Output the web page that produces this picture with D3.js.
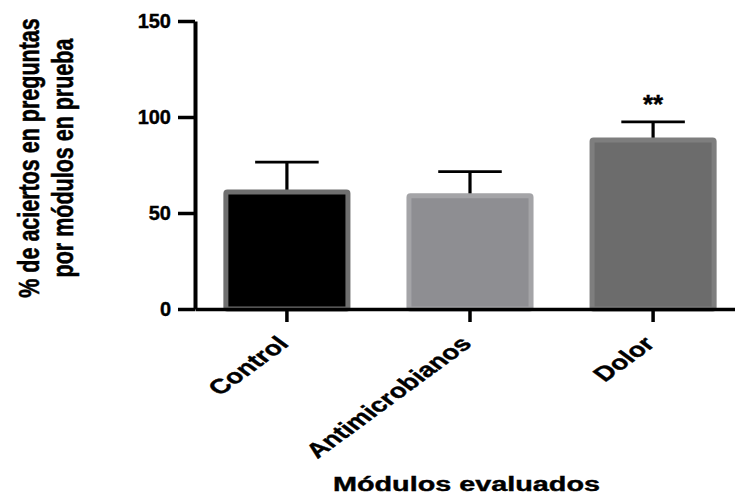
<!DOCTYPE html>
<html>
<head>
<meta charset="utf-8">
<script src="https://cdn.jsdelivr.net/npm/d3@7"></script>
<style>
	body { margin: 0; background: #fff; }
	svg { display: block; font-family: "Liberation Sans", Arial, sans-serif; font-weight: bold; }
	svg text { stroke: #000; stroke-width: 0.4px; }
</style>
</head>
<body>
<div class="thegraph"></div>
<script>
// datos
var modulos = ["Control", "Antimicrobianos", "Dolor"];
var medias = [61, 59, 88];
var errores = [15.5, 12.5, 9.5];
var marcas = ["", "", "**"];
var yTicks = [0, 50, 100, 150];
var rellenos = ["#000000", "#8e8e92", "#6c6c6c"];
var bordes = ["#6f6f6f", "#a4a4a7", "#7e7e7e"];

var w = 735;
var h = 497;
var svg = d3.select(".thegraph").append("svg")
	.attr("width", w)
	.attr("height", h)
	;

var x = d3.scaleBand()
	.domain(modulos)
	.range([195, 745])
	.paddingInner(0.306)
	.paddingOuter(0.155)
	;
var y = d3.scaleLinear()
	.domain([0, 150])
	.range([309, 21])
	;

var dataset = modulos.map(function(d, i) {
	return { name: d, v: medias[i], e: errores[i], m: marcas[i], fill: rellenos[i], stroke: bordes[i] };
});

// barras de error (solo hacia arriba)
var eb = svg.selectAll("g.eb")
	.data(dataset)
	.enter()
	.append("g")
	.attr("class", "eb")
	;
eb.append("line")
	.attr("x1", function(d) { return x(d.name) + x.bandwidth() / 2; })
	.attr("x2", function(d) { return x(d.name) + x.bandwidth() / 2; })
	.attr("y1", function(d) { return y(d.v); })
	.attr("y2", function(d) { return y(d.v + d.e); })
	.attr("stroke", "#000")
	.attr("stroke-width", 3.2)
	;
eb.append("line")
	.attr("x1", function(d) { return x(d.name) + x.bandwidth() * 0.25; })
	.attr("x2", function(d) { return x(d.name) + x.bandwidth() * 0.75; })
	.attr("y1", function(d) { return y(d.v + d.e); })
	.attr("y2", function(d) { return y(d.v + d.e); })
	.attr("stroke", "#000")
	.attr("stroke-width", 2.8)
	;

// barras
svg.selectAll("rect.bar")
	.data(dataset)
	.enter()
	.append("rect")
	.attr("class", "bar")
	.attr("x", function(d) { return x(d.name) + 2.5; })
	.attr("y", function(d) { return y(d.v); })
	.attr("width", x.bandwidth() - 5)
	.attr("height", function(d) { return y(0) - y(d.v); })
	.attr("rx", 1.5)
	.attr("fill", function(d) { return d.fill; })
	.attr("stroke", function(d) { return d.stroke; })
	.attr("stroke-width", 5)
	;

// asteriscos
svg.selectAll("text.sig")
	.data(dataset)
	.enter()
	.append("text")
	.attr("class", "sig")
	.attr("x", function(d) { return x(d.name) + x.bandwidth() / 2; })
	.attr("y", function(d) { return y(d.v + d.e) - 9; })
	.attr("text-anchor", "middle")
	.attr("font-size", "26px")
	.attr("fill", "#000")
	.text(function(d) { return d.m; })
	;

// eje y
var gy = svg.append("g")
	.attr("transform", "translate(195,0)")
	.call(d3.axisLeft(y).tickValues(yTicks).tickSize(17).tickPadding(7).tickSizeOuter(0))
	;
gy.select(".domain").attr("stroke-width", 4);
gy.selectAll(".tick line").attr("stroke-width", 3.5);
gy.selectAll(".tick text")
	.attr("font-size", "20px")
	.attr("font-family", "'Liberation Sans', Arial, sans-serif")
	.attr("font-weight", "bold")
	.attr("fill", "#000")
	;

// eje x
var gx = svg.append("g")
	.attr("transform", "translate(0,309)")
	.call(d3.axisBottom(x).tickSize(13).tickSizeOuter(0))
	;
gx.select(".domain").attr("stroke-width", 3.5);
gx.selectAll(".tick line").attr("stroke-width", 3.5);
gx.selectAll(".tick text")
	.attr("y", null)
	.attr("dy", null)
	.attr("text-anchor", "end")
	.attr("transform", "translate(3,36) scale(1.36,1) rotate(-45)")
	.attr("font-size", "20.5px")
	.attr("font-family", "'Liberation Sans', Arial, sans-serif")
	.attr("font-weight", "bold")
	.attr("fill", "#000")
	;

// titulos
var yTitulo = ["% de aciertos en preguntas", "por módulos en prueba"];
svg.selectAll("text.ytit")
	.data(yTitulo)
	.enter()
	.append("text")
	.attr("class", "ytit")
	.attr("transform", function(d, i) { return "translate(" + (39 + i * 34) + ",158) scale(1.4,1) rotate(-90)"; })
	.attr("text-anchor", "middle")
	.attr("font-size", "21.5px")
	.attr("fill", "#000")
	.text(function(d) { return d; })
	;

svg.append("text")
	.attr("x", 333)
	.attr("y", 491)
	.attr("font-size", "20px")
	.attr("textLength", 267)
	.attr("lengthAdjust", "spacingAndGlyphs")
	.attr("fill", "#000")
	.text("Módulos evaluados")
	;
</script>
</body>
</html>
